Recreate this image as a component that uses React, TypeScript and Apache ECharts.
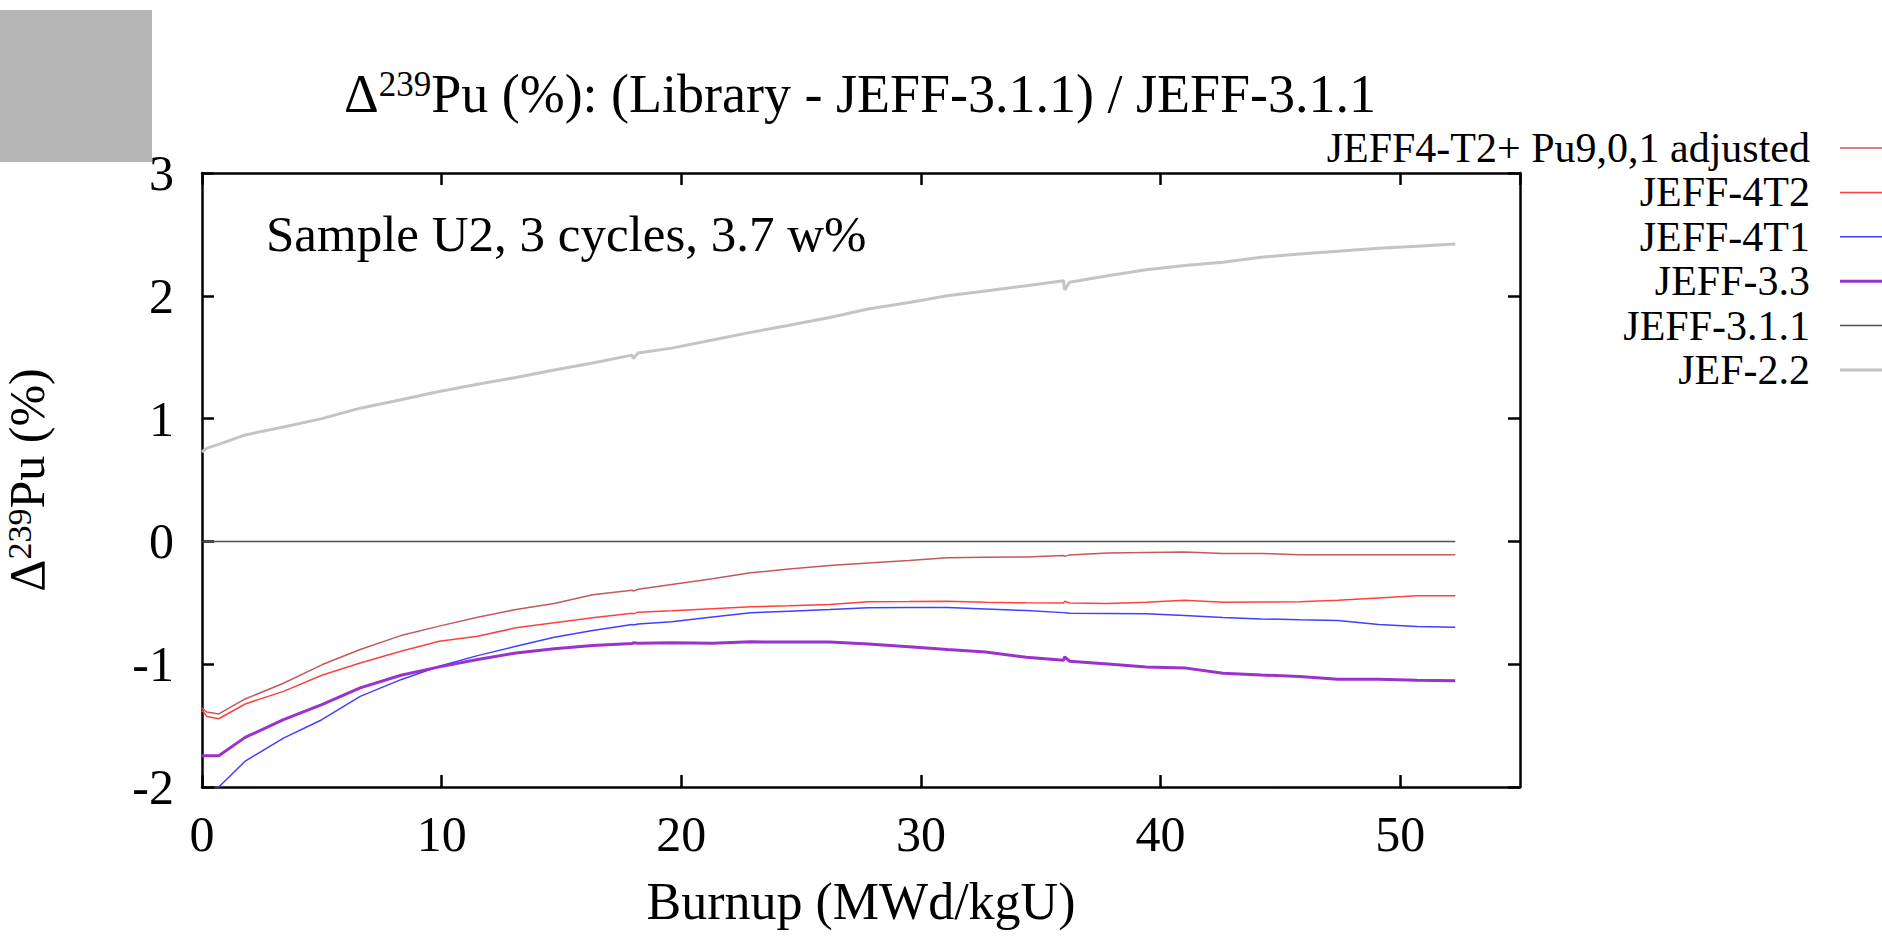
import React, { useEffect, useRef } from "react";
import * as echarts from "echarts";

const FONT = "'Liberation Serif', 'DejaVu Serif', serif";

// Burnup grid (MWd/kgU)
const burnup = [0, 0.2, 0.7, 1.8, 3.4, 5.0, 6.6, 8.3, 9.9, 11.5, 13.1, 14.7, 16.3, 17.95, 18.0, 18.2, 19.6, 21.3, 22.9, 24.5, 26.2, 27.8, 29.5, 31.1, 32.7, 34.4, 35.95, 36.0, 36.2, 37.8, 39.4, 41.0, 42.6, 44.2, 45.8, 47.4, 49.1, 50.7, 52.3];

const jeff4t2Adjusted = [-1.357, -1.39, -1.405, -1.283, -1.155, -1.005, -0.88, -0.767, -0.69, -0.617, -0.555, -0.506, -0.435, -0.397, -0.405, -0.39, -0.351, -0.305, -0.256, -0.225, -0.196, -0.176, -0.155, -0.133, -0.13, -0.127, -0.114, -0.122, -0.11, -0.095, -0.09, -0.087, -0.098, -0.098, -0.109, -0.108, -0.108, -0.109, -0.109];
const jeff4t2 = [-1.373, -1.425, -1.444, -1.324, -1.221, -1.09, -0.99, -0.895, -0.813, -0.772, -0.704, -0.663, -0.622, -0.585, -0.59, -0.576, -0.565, -0.548, -0.533, -0.525, -0.514, -0.492, -0.49, -0.487, -0.495, -0.5, -0.502, -0.488, -0.502, -0.506, -0.495, -0.479, -0.495, -0.494, -0.492, -0.479, -0.46, -0.443, -0.443];
const jeff4t1 = [-2.03, -2.03, -2.0, -1.79, -1.602, -1.452, -1.262, -1.126, -1.017, -0.93, -0.854, -0.78, -0.726, -0.677, -0.68, -0.672, -0.655, -0.615, -0.582, -0.568, -0.555, -0.541, -0.539, -0.538, -0.55, -0.563, -0.58, -0.582, -0.585, -0.587, -0.59, -0.604, -0.62, -0.631, -0.639, -0.644, -0.677, -0.693, -0.699];
const jeff33 = [-1.745, -1.745, -1.745, -1.596, -1.452, -1.33, -1.193, -1.09, -1.022, -0.962, -0.908, -0.875, -0.848, -0.832, -0.826, -0.83, -0.826, -0.83, -0.818, -0.819, -0.82, -0.835, -0.858, -0.881, -0.9, -0.944, -0.968, -0.94, -0.975, -0.998, -1.022, -1.03, -1.074, -1.088, -1.101, -1.123, -1.123, -1.131, -1.134];
const jeff311 = [0, 0, 0, 0, 0, 0, 0, 0, 0, 0, 0, 0, 0, 0, 0, 0, 0, 0, 0, 0, 0, 0, 0, 0, 0, 0, 0, 0, 0, 0, 0, 0, 0, 0, 0, 0, 0, 0, 0];
const jef22 = [0.728, 0.76, 0.79, 0.867, 0.932, 1.0, 1.085, 1.153, 1.221, 1.28, 1.335, 1.395, 1.452, 1.517, 1.49, 1.535, 1.574, 1.64, 1.702, 1.76, 1.824, 1.892, 1.945, 2.001, 2.04, 2.082, 2.123, 2.047, 2.11, 2.164, 2.213, 2.246, 2.273, 2.314, 2.341, 2.363, 2.387, 2.404, 2.422];

const seriesNames = ["JEFF4-T2+ Pu9,0,1 adjusted", "JEFF-4T2", "JEFF-4T1", "JEFF-3.3", "JEFF-3.1.1", "JEF-2.2"];
const seriesValues = [jeff4t2Adjusted, jeff4t2, jeff4t1, jeff33, jeff311, jef22];
const seriesColors = ["#c25a5a", "#ff4040", "#4040ff", "#9a32cd", "#505050", "#c4c4c4"];
const seriesWidths = [1.5, 1.5, 1.5, 3, 1.5, 3];

const titleText = "Δ{s|239}Pu (%): (Library - JEFF-3.1.1) / JEFF-3.1.1";
const yNameText = "Δ{s|239}Pu (%)";
const xNameText = "Burnup (MWd/kgU)";
const noteText = "Sample U2, 3 cycles, 3.7 w%";

const supRich = (size: number) => ({
  s: { fontSize: size, lineHeight: Math.round(size * 0.7), verticalAlign: "top", fontFamily: FONT, fill: "#000" },
});

function buildOption(): any {
  const axisLineStyle = { color: "#000", width: 2.5 };
  const legendTop = 148;
  const legendStep = 44.4;
  const legendGraphics: any[] = [];
  seriesNames.forEach((name, i) => {
    const y = legendTop + legendStep * i;
    legendGraphics.push({
      type: "text",
      x: 1810,
      y,
      style: {
        text: name,
        fontSize: 42,
        fontFamily: FONT,
        fill: "#000",
        align: "right",
        textAlign: "right",
        verticalAlign: "middle",
        textVerticalAlign: "middle",
      },
    });
    legendGraphics.push({
      type: "line",
      shape: { x1: 1840, y1: y, x2: 1900, y2: y },
      style: { stroke: seriesColors[i], lineWidth: seriesWidths[i] },
    });
  });

  return {
    animation: false,
    backgroundColor: "#fff",
    grid: { left: 202, right: 362, top: 173, bottom: 150, containLabel: false },
    xAxis: [
      {
        type: "value",
        min: 0,
        max: 55,
        interval: 10,
        position: "bottom",
        axisLine: { show: true, onZero: false, lineStyle: axisLineStyle },
        axisTick: { show: true, inside: true, length: 12, lineStyle: axisLineStyle },
        axisLabel: {
          fontSize: 50,
          fontFamily: FONT,
          color: "#000",
          margin: 22,
          showMaxLabel: false,
          formatter: (v: number) => (v % 10 === 0 ? String(v) : ""),
        },
        splitLine: { show: false },
        name: xNameText,
        nameLocation: "middle",
        nameGap: 88,
        nameTextStyle: { fontSize: 52, fontFamily: FONT, color: "#000" },
      },
      {
        type: "value",
        min: 0,
        max: 55,
        interval: 10,
        position: "top",
        axisLine: { show: true, onZero: false, lineStyle: axisLineStyle },
        axisTick: { show: true, inside: true, length: 12, lineStyle: axisLineStyle },
        axisLabel: { show: false },
        splitLine: { show: false },
      },
    ],
    yAxis: [
      {
        type: "value",
        min: -2,
        max: 3,
        interval: 1,
        position: "left",
        axisLine: { show: true, onZero: false, lineStyle: axisLineStyle },
        axisTick: { show: true, inside: true, length: 12, lineStyle: axisLineStyle },
        axisLabel: { fontSize: 50, fontFamily: FONT, color: "#000", margin: 28 },
        splitLine: { show: false },
      },
      {
        type: "value",
        min: -2,
        max: 3,
        interval: 1,
        position: "right",
        axisLine: { show: true, onZero: false, lineStyle: axisLineStyle },
        axisTick: { show: true, inside: true, length: 12, lineStyle: axisLineStyle },
        axisLabel: { show: false },
        splitLine: { show: false },
      },
    ],
    series: seriesNames.map((name, i) => ({
      name,
      type: "line",
      xAxisIndex: 0,
      yAxisIndex: 0,
      showSymbol: false,
      symbol: "none",
      clip: true,
      silent: true,
      z: 2 + i,
      data: burnup.map((x, j) => [x, seriesValues[i][j]]),
      lineStyle: { color: seriesColors[i], width: seriesWidths[i] },
      itemStyle: { color: seriesColors[i] },
    })),
    graphic: [
      {
        type: "text",
        x: 860,
        y: 94,
        style: {
          text: titleText,
          rich: supRich(35),
          fontSize: 54,
          fontFamily: FONT,
          fill: "#000",
          align: "center",
          textAlign: "center",
          verticalAlign: "middle",
          textVerticalAlign: "middle",
        },
      },
      {
        type: "text",
        x: 266,
        y: 234,
        style: {
          text: noteText,
          fontSize: 51,
          fontFamily: FONT,
          fill: "#000",
          align: "left",
          textAlign: "left",
          verticalAlign: "middle",
          textVerticalAlign: "middle",
        },
      },
      {
        type: "text",
        x: 27,
        y: 480,
        rotation: Math.PI / 2,
        style: {
          text: yNameText,
          rich: supRich(34),
          fontSize: 50,
          fontFamily: FONT,
          fill: "#000",
          align: "center",
          textAlign: "center",
          verticalAlign: "middle",
          textVerticalAlign: "middle",
        },
      },
      ...legendGraphics,
      {
        type: "rect",
        z: 100,
        shape: { x: 0, y: 10, width: 152, height: 152 },
        style: { fill: "#b5b5b5" },
      },
    ],
  };
}

export default function App() {
  const ref = useRef<HTMLDivElement>(null);
  useEffect(() => {
    if (!ref.current) return;
    const chart = echarts.init(ref.current, null, { renderer: "svg" });
    chart.setOption(buildOption());
    return () => chart.dispose();
  }, []);
  return (
    <div
      ref={ref}
      style={{ position: "absolute", left: 0, top: 0, width: 1882, height: 937, background: "#fff" }}
    />
  );
}
